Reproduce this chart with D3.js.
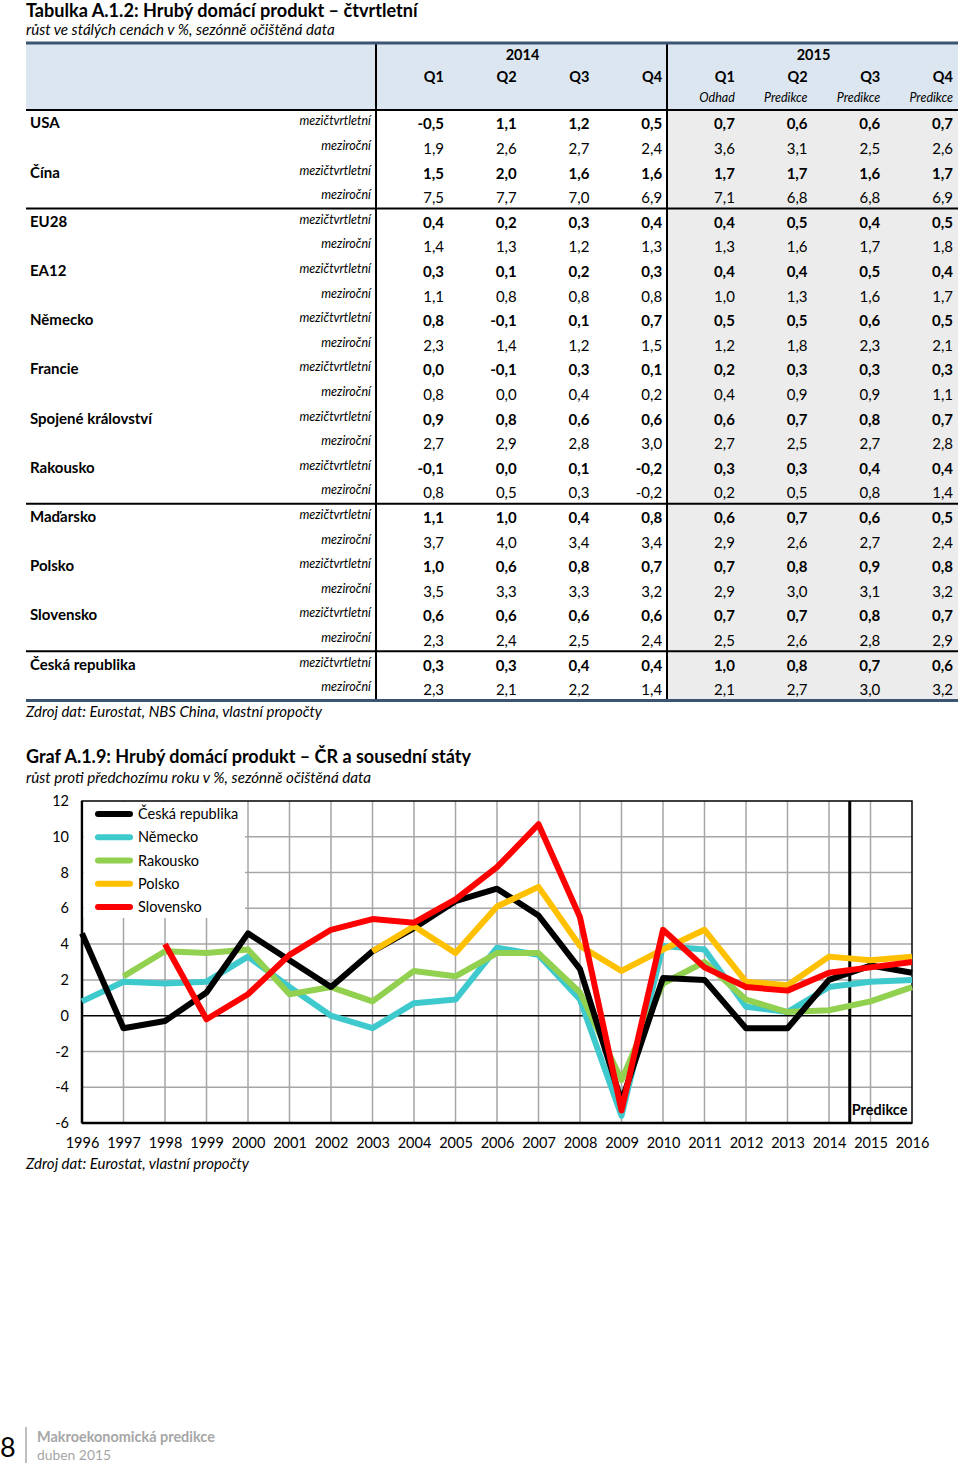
<!DOCTYPE html>
<html><head><meta charset="utf-8">
<script src="https://cdn.jsdelivr.net/npm/d3@7"></script>
<style>body{margin:0;background:#fff}svg{display:block;font-family:Lato,"Open Sans",sans-serif}</style>
</head><body><svg id="c" width="960" height="1465"></svg>
<script>
// ---------- TABLE DATA ----------
const tableTitle = "Tabulka A.1.2: Hrubý domácí produkt – čtvrtletní";
const tableSubtitle = "růst ve stálých cenách v %, sezónně očištěná data";
const tableSource = "Zdroj dat: Eurostat, NBS China, vlastní propočty";
const yearGroups = ["2014", "2015"];
const quarterLabels = ["Q1", "Q2", "Q3", "Q4", "Q1", "Q2", "Q3", "Q4"];
const quarterNotes = ["", "", "", "", "Odhad", "Predikce", "Predikce", "Predikce"];
const rowKinds = ["mezičtvrtletní", "meziroční"];
const countries = ["USA", "Čína", "EU28", "EA12", "Německo", "Francie", "Spojené království",
  "Rakousko", "Maďarsko", "Polsko", "Slovensko", "Česká republika"];
const qoqValues = [
  [-0.5, 1.1, 1.2, 0.5, 0.7, 0.6, 0.6, 0.7],
  [1.5, 2.0, 1.6, 1.6, 1.7, 1.7, 1.6, 1.7],
  [0.4, 0.2, 0.3, 0.4, 0.4, 0.5, 0.4, 0.5],
  [0.3, 0.1, 0.2, 0.3, 0.4, 0.4, 0.5, 0.4],
  [0.8, -0.1, 0.1, 0.7, 0.5, 0.5, 0.6, 0.5],
  [0.0, -0.1, 0.3, 0.1, 0.2, 0.3, 0.3, 0.3],
  [0.9, 0.8, 0.6, 0.6, 0.6, 0.7, 0.8, 0.7],
  [-0.1, 0.0, 0.1, -0.2, 0.3, 0.3, 0.4, 0.4],
  [1.1, 1.0, 0.4, 0.8, 0.6, 0.7, 0.6, 0.5],
  [1.0, 0.6, 0.8, 0.7, 0.7, 0.8, 0.9, 0.8],
  [0.6, 0.6, 0.6, 0.6, 0.7, 0.7, 0.8, 0.7],
  [0.3, 0.3, 0.4, 0.4, 1.0, 0.8, 0.7, 0.6]
];
const yoyValues = [
  [1.9, 2.6, 2.7, 2.4, 3.6, 3.1, 2.5, 2.6],
  [7.5, 7.7, 7.0, 6.9, 7.1, 6.8, 6.8, 6.9],
  [1.4, 1.3, 1.2, 1.3, 1.3, 1.6, 1.7, 1.8],
  [1.1, 0.8, 0.8, 0.8, 1.0, 1.3, 1.6, 1.7],
  [2.3, 1.4, 1.2, 1.5, 1.2, 1.8, 2.3, 2.1],
  [0.8, 0.0, 0.4, 0.2, 0.4, 0.9, 0.9, 1.1],
  [2.7, 2.9, 2.8, 3.0, 2.7, 2.5, 2.7, 2.8],
  [0.8, 0.5, 0.3, -0.2, 0.2, 0.5, 0.8, 1.4],
  [3.7, 4.0, 3.4, 3.4, 2.9, 2.6, 2.7, 2.4],
  [3.5, 3.3, 3.3, 3.2, 2.9, 3.0, 3.1, 3.2],
  [2.3, 2.4, 2.5, 2.4, 2.5, 2.6, 2.8, 2.9],
  [2.3, 2.1, 2.2, 1.4, 2.1, 2.7, 3.0, 3.2]
];
const groupSeparatorsAfter = [1, 7, 10]; // country index after which a black rule is drawn

// ---------- CHART DATA ----------
const chartTitle = "Graf A.1.9: Hrubý domácí produkt – ČR a sousední státy";
const chartSubtitle = "růst proti předchozímu roku v %, sezónně očištěná data";
const chartSource = "Zdroj dat: Eurostat, vlastní propočty";
const years = [1996, 1997, 1998, 1999, 2000, 2001, 2002, 2003, 2004, 2005, 2006,
  2007, 2008, 2009, 2010, 2011, 2012, 2013, 2014, 2015, 2016];
const yTicks = [-6, -4, -2, 0, 2, 4, 6, 8, 10, 12];
const seriesNames = ["Česká republika", "Německo", "Rakousko", "Polsko", "Slovensko"];
const seriesColors = ["#000000", "#3ec9cc", "#92d050", "#ffc000", "#ff0000"];
const czValues = [4.6, -0.7, -0.3, 1.3, 4.6, 3.1, 1.6, 3.6, 4.9, 6.4, 7.1, 5.6, 2.6, -4.8, 2.1, 2.0, -0.7, -0.7, 2.0, 2.8, 2.4];
const deValues = [0.8, 1.9, 1.8, 1.9, 3.3, 1.6, 0.0, -0.7, 0.7, 0.9, 3.8, 3.4, 0.9, -5.6, 3.9, 3.7, 0.5, 0.2, 1.6, 1.9, 2.0];
const atValues = [null, 2.2, 3.6, 3.5, 3.7, 1.2, 1.6, 0.8, 2.5, 2.2, 3.5, 3.5, 1.3, -3.6, 1.8, 3.0, 0.9, 0.2, 0.3, 0.8, 1.6];
const plValues = [null, null, null, null, null, null, null, 3.6, 5.0, 3.5, 6.1, 7.2, 3.9, 2.5, 3.7, 4.8, 1.9, 1.7, 3.3, 3.1, 3.3];
const skValues = [null, null, 4.0, -0.2, 1.2, 3.4, 4.8, 5.4, 5.2, 6.5, 8.3, 10.7, 5.5, -5.3, 4.8, 2.7, 1.6, 1.4, 2.4, 2.7, 3.0];
const predictionFrom = 2014.5;
const predictionLabel = "Predikce";
const drawOrder = [1, 2, 0, 3, 4];

const footerPage = "8";
const footerTitle = "Makroekonomická predikce";
const footerDate = "duben 2015";

// ---------- HELPERS ----------
const svg = d3.select("#c");
const loc = d3.formatLocale({decimal: ",", thousands: " ", grouping: [3], currency: ["", ""], minus: "-"});
const fmt = loc.format(".1f");
function fit(sel, w) {
  const n = sel.node();
  const l = n.getComputedTextLength();
  const fs = parseFloat(sel.attr("font-size"));
  sel.attr("font-size", (fs * w / l).toFixed(2));
  return sel;
}
function txt(x, y, s, size, opts = {}) {
  const t = svg.append("text").attr("x", x).attr("y", y).attr("font-size", size).text(s);
  if (opts.bold) t.attr("font-weight", "bold");
  if (opts.italic) t.attr("font-style", "italic");
  if (opts.anchor) t.attr("text-anchor", opts.anchor);
  if (opts.fill) t.attr("fill", opts.fill);
  if (opts.baseline) t.attr("dominant-baseline", opts.baseline);
  if (opts.width) fit(t, opts.width);
  return t;
}

// ---------- TABLE ----------
txt(26, 17, tableTitle, 17, {bold: true, width: 392});
txt(26, 35, tableSubtitle, 14, {italic: true, width: 309});

const tL = 26, tR = 958, tTop = 43, hdrBottom = 110, tBottom = 700.5, labelEdge = 376, splitX = 667;
const nRows = countries.length * 2;
const rowY = d3.scaleBand().domain(d3.range(nRows)).range([hdrBottom, tBottom]);
const colX = d3.scaleLinear().domain([0, 7]).range([444, 953]);

// backgrounds
svg.append("rect").attr("x", tL).attr("y", tTop).attr("width", tR - tL).attr("height", hdrBottom - tTop).attr("fill", "#dce6f1");
svg.append("rect").attr("x", splitX).attr("y", hdrBottom).attr("width", tR - splitX).attr("height", tBottom - hdrBottom).attr("fill", "#ececec");

// header text
[[labelEdge, splitX], [splitX, tR]].forEach((r, i) => {
  txt((r[0] + r[1]) / 2 + 1, 60, yearGroups[i], 14.5, {bold: true, anchor: "middle"});
});
quarterLabels.forEach((q, i) => txt(colX(i), 82, q, 14.5, {bold: true, anchor: "end"}));
quarterNotes.forEach((q, i) => { if (q) txt(colX(i), 102, q, 12.5, {italic: true, anchor: "end"}); });

// rows
countries.forEach((c, ci) => {
  [qoqValues[ci], yoyValues[ci]].forEach((vals, k) => {
    const r = ci * 2 + k;
    const yc = rowY(r) + rowY.bandwidth() / 2;
    if (k === 0) txt(30, yc + 6, c, 15, {bold: true});
    txt(371, yc + 3, rowKinds[k], 12.5, {italic: true, anchor: "end"});
    vals.forEach((v, j) => txt(colX(j), yc + 7, fmt(v), 15, {bold: k === 0, anchor: "end"}));
  });
});

// rules
svg.append("line").attr("x1", tL).attr("x2", tR).attr("y1", hdrBottom).attr("y2", hdrBottom).attr("stroke", "#000").attr("stroke-width", 2.2);
groupSeparatorsAfter.forEach(ci => {
  const y = rowY((ci + 1) * 2);
  svg.append("line").attr("x1", tL).attr("x2", tR).attr("y1", y).attr("y2", y).attr("stroke", "#000").attr("stroke-width", 2);
});
[labelEdge, splitX].forEach(x => svg.append("line").attr("x1", x).attr("x2", x).attr("y1", tTop).attr("y2", tBottom).attr("stroke", "#000").attr("stroke-width", 2));
[tTop, tBottom].forEach(y => svg.append("line").attr("x1", tL).attr("x2", tR).attr("y1", y).attr("y2", y).attr("stroke", "#3a5472").attr("stroke-width", 3));

txt(26, 717, tableSource, 14, {italic: true, width: 296});

// ---------- CHART ----------
txt(26, 763, chartTitle, 17, {bold: true, width: 445});
txt(26, 783, chartSubtitle, 14, {italic: true, width: 345});

const pL = 82, pR = 912, pT = 801, pB = 1123;
const x = d3.scaleLinear().domain([years[0], years[years.length - 1]]).range([pL, pR]);
const y = d3.scaleLinear().domain([yTicks[0], yTicks[yTicks.length - 1]]).range([pB, pT]);

const g = svg.append("g");
// grid
g.selectAll(".vg").data(years.slice(1, -1)).join("line")
  .attr("x1", d => x(d)).attr("x2", d => x(d)).attr("y1", pT).attr("y2", pB)
  .attr("stroke", "#a6a6a6").attr("stroke-width", 1.5);
g.selectAll(".hg").data(yTicks.filter(d => d !== 0 && d !== yTicks[0] && d !== yTicks[yTicks.length - 1])).join("line")
  .attr("x1", pL).attr("x2", pR).attr("y1", d => y(d)).attr("y2", d => y(d))
  .attr("stroke", "#a6a6a6").attr("stroke-width", 1.5);
g.append("line").attr("x1", pL).attr("x2", pR).attr("y1", y(0)).attr("y2", y(0)).attr("stroke", "#000").attr("stroke-width", 1.5);
g.append("rect").attr("x", pL).attr("y", pT).attr("width", pR - pL).attr("height", pB - pT)
  .attr("fill", "none").attr("stroke", "#000").attr("stroke-width", 1.5);
g.append("line").attr("x1", pL).attr("x2", pL).attr("y1", pT).attr("y2", pB).attr("stroke", "#000").attr("stroke-width", 2.5);
g.append("line").attr("x1", pL).attr("x2", pR).attr("y1", pB).attr("y2", pB).attr("stroke", "#000").attr("stroke-width", 2.5);

// legend background (covers grid)
const legY = d3.scalePoint().domain(seriesNames).range([814, 907]);
g.append("rect").attr("x", pL + 1.5).attr("y", pT + 1).attr("width", 245 - pL - 1.5).attr("height", 918 - pT - 1).attr("fill", "#fff");

// prediction line
g.append("line").attr("x1", x(predictionFrom)).attr("x2", x(predictionFrom)).attr("y1", pT).attr("y2", pB).attr("stroke", "#000").attr("stroke-width", 3);
g.append("text").attr("x", x(predictionFrom) + 2).attr("y", pB - 8).attr("font-size", 14.5).attr("font-weight", "bold").text(predictionLabel);

// series
const allSeries = [czValues, deValues, atValues, plValues, skValues];
const line = d3.line().defined(d => d[1] !== null).x(d => x(d[0])).y(d => y(d[1]));
drawOrder.forEach(i => {
  g.append("path").datum(years.map((yr, k) => [yr, allSeries[i][k]]))
    .attr("d", line).attr("fill", "none").attr("stroke", seriesColors[i])
    .attr("stroke-width", 6).attr("stroke-linejoin", "round").attr("stroke-linecap", "butt");
});

// legend entries
seriesNames.forEach((s, i) => {
  g.append("line").attr("x1", 98).attr("x2", 130).attr("y1", legY(s)).attr("y2", legY(s))
    .attr("stroke", seriesColors[i]).attr("stroke-width", 6).attr("stroke-linecap", "round");
  g.append("text").attr("x", 138).attr("y", legY(s)).attr("dy", "0.35em").attr("font-size", 14.5).text(s);
});

// axes labels
const xAxis = d3.axisBottom(x).tickValues(years).tickFormat(d3.format("d")).tickSize(0).tickPadding(15);
const ax = svg.append("g").attr("transform", `translate(0,${pB})`).call(xAxis);
ax.select(".domain").remove();
ax.selectAll("text").attr("font-size", 14.5).attr("font-family", "Lato, sans-serif").attr("fill", "#000");
const yAxis = d3.axisLeft(y).tickValues(yTicks).tickFormat(d => String(d)).tickSize(0).tickPadding(13);
const ay = svg.append("g").attr("transform", `translate(${pL},0)`).call(yAxis);
ay.select(".domain").remove();
ay.selectAll("text").attr("font-size", 14.5).attr("font-family", "Lato, sans-serif").attr("fill", "#000");

txt(26, 1169, chartSource, 14, {italic: true, width: 223});

// ---------- FOOTER ----------
txt(0, 1457, footerPage, 27);
svg.append("line").attr("x1", 26).attr("x2", 26).attr("y1", 1427).attr("y2", 1463).attr("stroke", "#bfbfbf").attr("stroke-width", 2);
txt(37, 1442, footerTitle, 14, {bold: true, fill: "#a6a6a6", width: 178});
txt(37, 1460, footerDate, 14, {fill: "#a6a6a6", width: 74});
</script></body></html>
